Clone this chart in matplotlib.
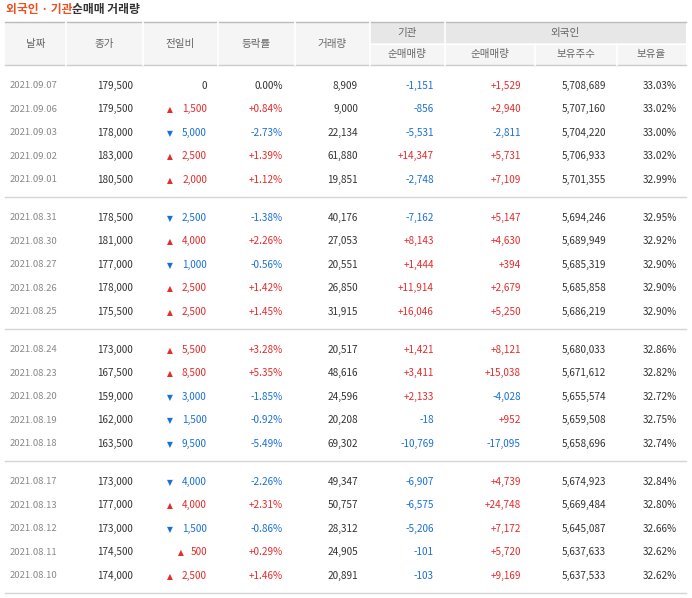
import matplotlib
matplotlib.use("Agg")
import matplotlib.pyplot as plt
from matplotlib.patches import Rectangle

plt.rcParams['font.family'] = 'Noto Sans CJK KR'

dates = ["2021.09.07","2021.09.06","2021.09.03","2021.09.02","2021.09.01",
         "2021.08.31","2021.08.30","2021.08.27","2021.08.26","2021.08.25",
         "2021.08.24","2021.08.23","2021.08.20","2021.08.19","2021.08.18",
         "2021.08.17","2021.08.13","2021.08.12","2021.08.11","2021.08.10"]
close = [179500,179500,178000,183000,180500,178500,181000,177000,178000,175500,
         173000,167500,159000,162000,163500,173000,177000,173000,174500,174000]
change = [0,1500,-5000,2500,2000,-2500,4000,-1000,2500,2500,
          5500,8500,-3000,-1500,-9500,-4000,4000,-1500,500,2500]
rate = [0.00,0.84,-2.73,1.39,1.12,-1.38,2.26,-0.56,1.42,1.45,
        3.28,5.35,-1.85,-0.92,-5.49,-2.26,2.31,-0.86,0.29,1.46]
volume = [8909,9000,22134,61880,19851,40176,27053,20551,26850,31915,
          20517,48616,24596,20208,69302,49347,50757,28312,24905,20891]
inst = [-1151,-856,-5531,14347,-2748,-7162,8143,1444,11914,16046,
        1421,3411,2133,-18,-10769,-6907,-6575,-5206,-101,-103]
foreign = [1529,2940,-2811,5731,7109,5147,4630,394,2679,5250,
           8121,15038,-4028,952,-17095,4739,24748,7172,5720,9169]
holdings = [5708689,5707160,5704220,5706933,5701355,5694246,5689949,5685319,5685858,5686219,
            5680033,5671612,5655574,5659508,5658696,5674923,5669484,5645087,5637633,5637533]
ratio = [33.03,33.02,33.00,33.02,32.99,32.95,32.92,32.90,32.90,32.90,
         32.86,32.82,32.72,32.75,32.74,32.84,32.80,32.66,32.62,32.62]

W, H = 692, 598
fig = plt.figure(figsize=(W/100, H/100), dpi=100)
ax = fig.add_axes([0, 0, 1, 1])
ax.set_xlim(0, W); ax.set_ylim(H, 0); ax.axis('off')

RED, BLUE, DARK, GRAY = '#e52b2b', '#1a6fd6', '#333333', '#888888'
FS = 7.2

ax.text(6, 10, "외국인 · 기관", color='#f0501e', fontsize=8.5, fontweight='bold', va='center')
ax.text(72, 10, "순매매 거래량", color=DARK, fontsize=8.5, fontweight='bold', va='center')

cols = [5, 66, 143, 218, 295, 370, 445, 535, 617, 686]
ax.add_patch(Rectangle((5, 22), 681, 43, color='#f5f5f5', lw=0))
ax.add_patch(Rectangle((370, 22), 316, 21, color='#e7e7e7', lw=0))
ax.plot([5, 686], [22, 22], color='#bbbbbb', lw=1)
ax.plot([5, 686], [65, 65], color='#cccccc', lw=1)
ax.plot([370, 686], [43.5, 43.5], color='#ffffff', lw=1)
for x in cols[1:-1]:
    y0 = 22 if x in (66, 143, 218, 295, 370, 445) else 43.5
    ax.plot([x, x], [y0, 65], color='#ffffff', lw=1.2)
hdr = ["날짜", "종가", "전일비", "등락률", "거래량"]
for i, h in enumerate(hdr):
    ax.text((cols[i]+cols[i+1])/2, 44, h, ha='center', va='center', fontsize=7.6, color='#666666')
ax.text(407.5, 33, "기관", ha='center', va='center', fontsize=7.6, color='#666666')
ax.text(565.5, 33, "외국인", ha='center', va='center', fontsize=7.6, color='#666666')
for i, h in enumerate(["순매매량", "순매매량", "보유주수", "보유율"]):
    ax.text((cols[i+5]+cols[i+6])/2, 54.5, h, ha='center', va='center', fontsize=7.6, color='#666666')

def fmt(v, sign=False):
    s = f"{abs(v):,}"
    if v < 0: return "-" + s
    if sign and v > 0: return "+" + s
    return s

for i in range(len(dates)):
    g, r = divmod(i, 5)
    y = 86 + g*132 + r*23.4
    ax.text(10, y, dates[i], fontsize=6.8, color=GRAY, va='center')
    ax.text(133, y, fmt(close[i]), fontsize=FS, color=DARK, va='center', ha='right')
    c = change[i]
    col = RED if c > 0 else BLUE if c < 0 else DARK
    ax.text(207, y, fmt(abs(c)), fontsize=FS, color=col, va='center', ha='right')
    if c != 0:
        tw = len(f"{abs(c):,}") * 5.6
        ax.text(207 - tw - 6, y + 0.5, "▲" if c > 0 else "▼", fontsize=5.5, color=col,
                va='center', ha='right', family='DejaVu Sans')
    rv = rate[i]
    ax.text(283, y, (f"+{rv:.2f}%" if rv > 0 else f"{rv:.2f}%"), fontsize=FS, va='center', ha='right',
            color=RED if rv > 0 else BLUE if rv < 0 else DARK)
    ax.text(358, y, fmt(volume[i]), fontsize=FS, color=DARK, va='center', ha='right')
    ax.text(434, y, fmt(inst[i], True), fontsize=FS, va='center', ha='right',
            color=RED if inst[i] > 0 else BLUE)
    ax.text(521, y, fmt(foreign[i], True), fontsize=FS, va='center', ha='right',
            color=RED if foreign[i] > 0 else BLUE)
    ax.text(606, y, fmt(holdings[i]), fontsize=FS, color=DARK, va='center', ha='right')
    ax.text(677, y, f"{ratio[i]:.2f}%", fontsize=FS, color=DARK, va='center', ha='right')

for yl in [197, 329, 461, 593]:
    ax.plot([5, 686], [yl, yl], color='#d5d5d5', lw=1)

fig.savefig("out.png", dpi=100, facecolor='white')
